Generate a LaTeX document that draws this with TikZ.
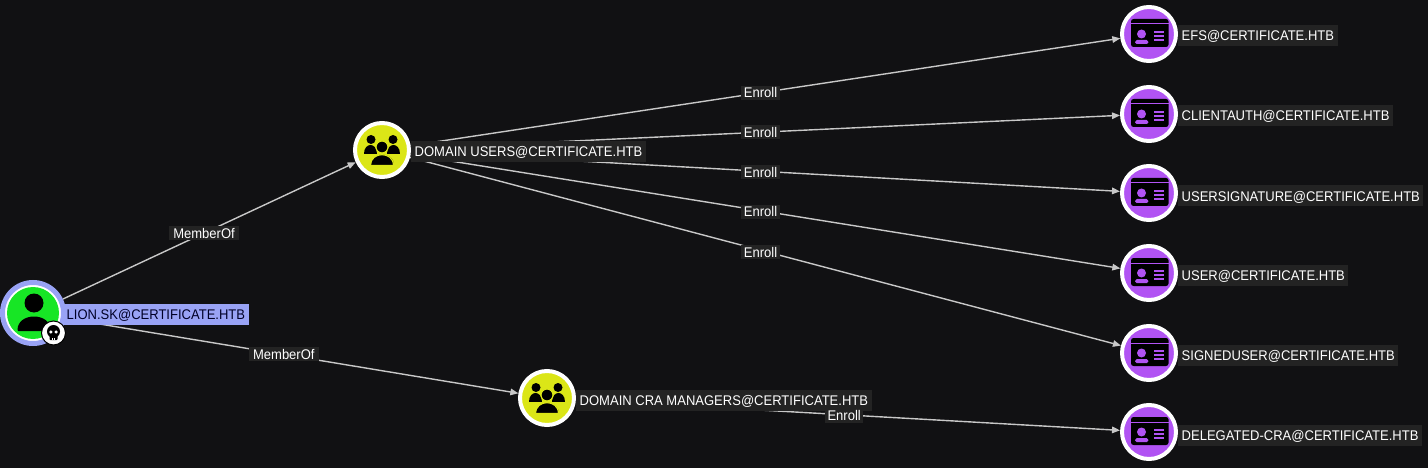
\documentclass[tikz,border=0pt]{standalone}
\usepackage{fontspec}
\setmainfont{Liberation Sans}[FakeStretch=0.93]
\usetikzlibrary{arrows.meta}
\pgfdeclarelayer{backdrop}
\pgfdeclarelayer{edgelayer}
\pgfsetlayers{backdrop,edgelayer,main}
\definecolor{bgc}{HTML}{111113}
\definecolor{labelbg}{HTML}{232323}
\definecolor{edgec}{HTML}{C8C8C8}
\definecolor{peri}{HTML}{99A3F5}
\definecolor{grn}{HTML}{17E625}
\definecolor{yel}{HTML}{DBE617}
\definecolor{pur}{HTML}{B153F3}
\tikzset{
  x=1pt,y=-1pt,
  every node/.style={font=\fontsize{14}{16}\selectfont},
  certnode/.style={circle,fill=pur,draw=white,line width=4pt,minimum size=54pt,inner sep=0pt},
  groupnode/.style={circle,fill=yel,draw=white,line width=4pt,minimum size=54pt,inner sep=0pt},
  usernode/.style={circle,fill=white,draw=peri,line width=5pt,minimum size=61pt,inner sep=0pt},
  namelabel/.style={anchor=west,fill=labelbg,text=white,inner xsep=3.5pt,inner ysep=3pt,minimum height=21pt,text height=10pt,text depth=0pt},
  sellabel/.style={namelabel,fill=peri,text=black!85!blue},
  elabel/.style={fill=labelbg,text=white,inner xsep=2.5pt,inner ysep=2pt,text height=10pt,text depth=0pt},
  edgeline/.style={draw=edgec,line width=1.4pt,-{Triangle[length=8pt,width=6.5pt,fill=edgec]}},
  pics/cardicon/.style={code={
    \fill[black,rounded corners=2.5pt] (-18,-15) rectangle (19.5,13);
    \fill[pur] (-18,-10.5) rectangle (19.5,-9.5);
    \fill[pur] (-7.5,0) circle (4.5);
    \fill[pur,rounded corners=1.5pt] (-14,10) -- (-13.5,6) -- (-1,6) -- (-0.5,10) -- cycle;
    \fill[pur] (4.5,-3) rectangle (15,-1);
    \fill[pur] (4.5,1.2) rectangle (15,3.2);
    \fill[pur] (4.5,5.4) rectangle (15,7.4);
  }},
  pics/groupicon/.style={code={
    \fill[black] (-11,-10.5) circle (4.5);
    \fill[black] (11,-10.5) circle (4.5);
    \fill[black] (-18,4) .. controls (-18,-8) and (-5,-8) .. (-5,4) -- cycle;
    \fill[black] (18,4) .. controls (18,-8) and (5,-8) .. (5,4) -- cycle;
    \fill[black,draw=yel,line width=1.2pt] (0,-3) circle (6);
    \fill[black,draw=yel,line width=1.2pt] (-11.5,15.5) .. controls (-11.5,1) and (11.5,1) .. (11.5,15.5) -- cycle;
  }},
  pics/usericon/.style={code={
    \fill[black] (1,-10) circle (9.5);
    \fill[black,rounded corners=1pt] (-15.5,18) .. controls (-15.5,-1) and (17.5,-1) .. (17.5,18) -- cycle;
  }},
  pics/skullicon/.style={code={
    \fill[black] (0,-1.5) circle (6.5);
    \fill[black,rounded corners=1pt] (-4,1) rectangle (4,7);
    \fill[white] (-2.6,-1) circle (1.7);
    \fill[white] (2.6,-1) circle (1.7);
    \fill[white] (-1.2,4.5) rectangle (-0.6,7);
    \fill[white] (0.6,4.5) rectangle (1.2,7);
  }},
}
\begin{document}
\begin{tikzpicture}
\useasboundingbox (0,0) rectangle (1428,468);
\begin{pgfonlayer}{backdrop}
\fill[bgc] (0,0) rectangle (1428,468);
\end{pgfonlayer}
% nodes
\node[usernode] (lion) at (33,313) {};
\fill[grn] (lion.center) circle (26);
\pic at (lion.center) {usericon};
\node[groupnode] (du) at (382,150) {};
\pic at (du.center) {groupicon};
\node[groupnode] (cra) at (547,398) {};
\pic at (cra.center) {groupicon};
\node[certnode] (efs) at (1149,34) {};
\pic at (efs.center) {cardicon};
\node[certnode] (ca) at (1149,114) {};
\pic at (ca.center) {cardicon};
\node[certnode] (us) at (1149,193) {};
\pic at (us.center) {cardicon};
\node[certnode] (usr) at (1149,273) {};
\pic at (usr.center) {cardicon};
\node[certnode] (su) at (1149,353) {};
\pic at (su.center) {cardicon};
\node[certnode] (dc) at (1149,432) {};
\pic at (dc.center) {cardicon};
% node labels
\node[sellabel] (lionl) at (63,314) {LION.SK@CERTIFICATE.HTB};
\node[namelabel] (dul) at (411,151.5) {DOMAIN USERS@CERTIFICATE.HTB};
\node[namelabel] (cral) at (576,400) {DOMAIN CRA MANAGERS@CERTIFICATE.HTB};
\node[namelabel] (efsl) at (1178,36) {EFS@CERTIFICATE.HTB};
\node[namelabel] (cal) at (1178,116) {CLIENTAUTH@CERTIFICATE.HTB};
\node[namelabel] (usl) at (1178,196) {USERSIGNATURE@CERTIFICATE.HTB};
\node[namelabel] (usrl) at (1178,275) {USER@CERTIFICATE.HTB};
\node[namelabel] (sul) at (1178,355) {SIGNEDUSER@CERTIFICATE.HTB};
\node[namelabel] (dcl) at (1178,435) {DELEGATED-CRA@CERTIFICATE.HTB};
% badge
\node[circle,fill=white,draw=black,line width=1pt,minimum size=24pt,inner sep=0pt] (badge) at (53.5,333) {};
\pic at (badge.center) {skullicon};
% connectors
\begin{pgfonlayer}{edgelayer}
\draw[edgeline] (lion) -- (du);
\draw[edgeline] (lion) -- (cra);
\draw[edgeline] (du) -- (efs);
\draw[edgeline] (du) -- (ca);
\draw[edgeline] (du) -- (us);
\draw[edgeline] (du) -- (usr);
\draw[edgeline] (du) -- (su);
\draw[edgeline] (cra) -- (dc);
\end{pgfonlayer}
% connector labels
\path (lion) -- node[elabel,pos=.482,inner xsep=4pt,xshift=0pt] {MemberOf} (du);
\path (lion) -- node[elabel,pos=.482,inner xsep=4pt] {MemberOf} (cra);
\path (du) -- node[elabel,pos=.493] {Enroll} (efs);
\path (du) -- node[elabel,pos=.493] {Enroll} (ca);
\path (du) -- node[elabel,pos=.493,yshift=-1pt] {Enroll} (us);
\path (du) -- node[elabel,pos=.493,yshift=-1pt] {Enroll} (usr);
\path (du) -- node[elabel,pos=.493,yshift=-2pt] {Enroll} (su);
\path (cra) -- node[elabel,pos=.493,yshift=-1pt] {Enroll} (dc);
\end{tikzpicture}
\end{document}
